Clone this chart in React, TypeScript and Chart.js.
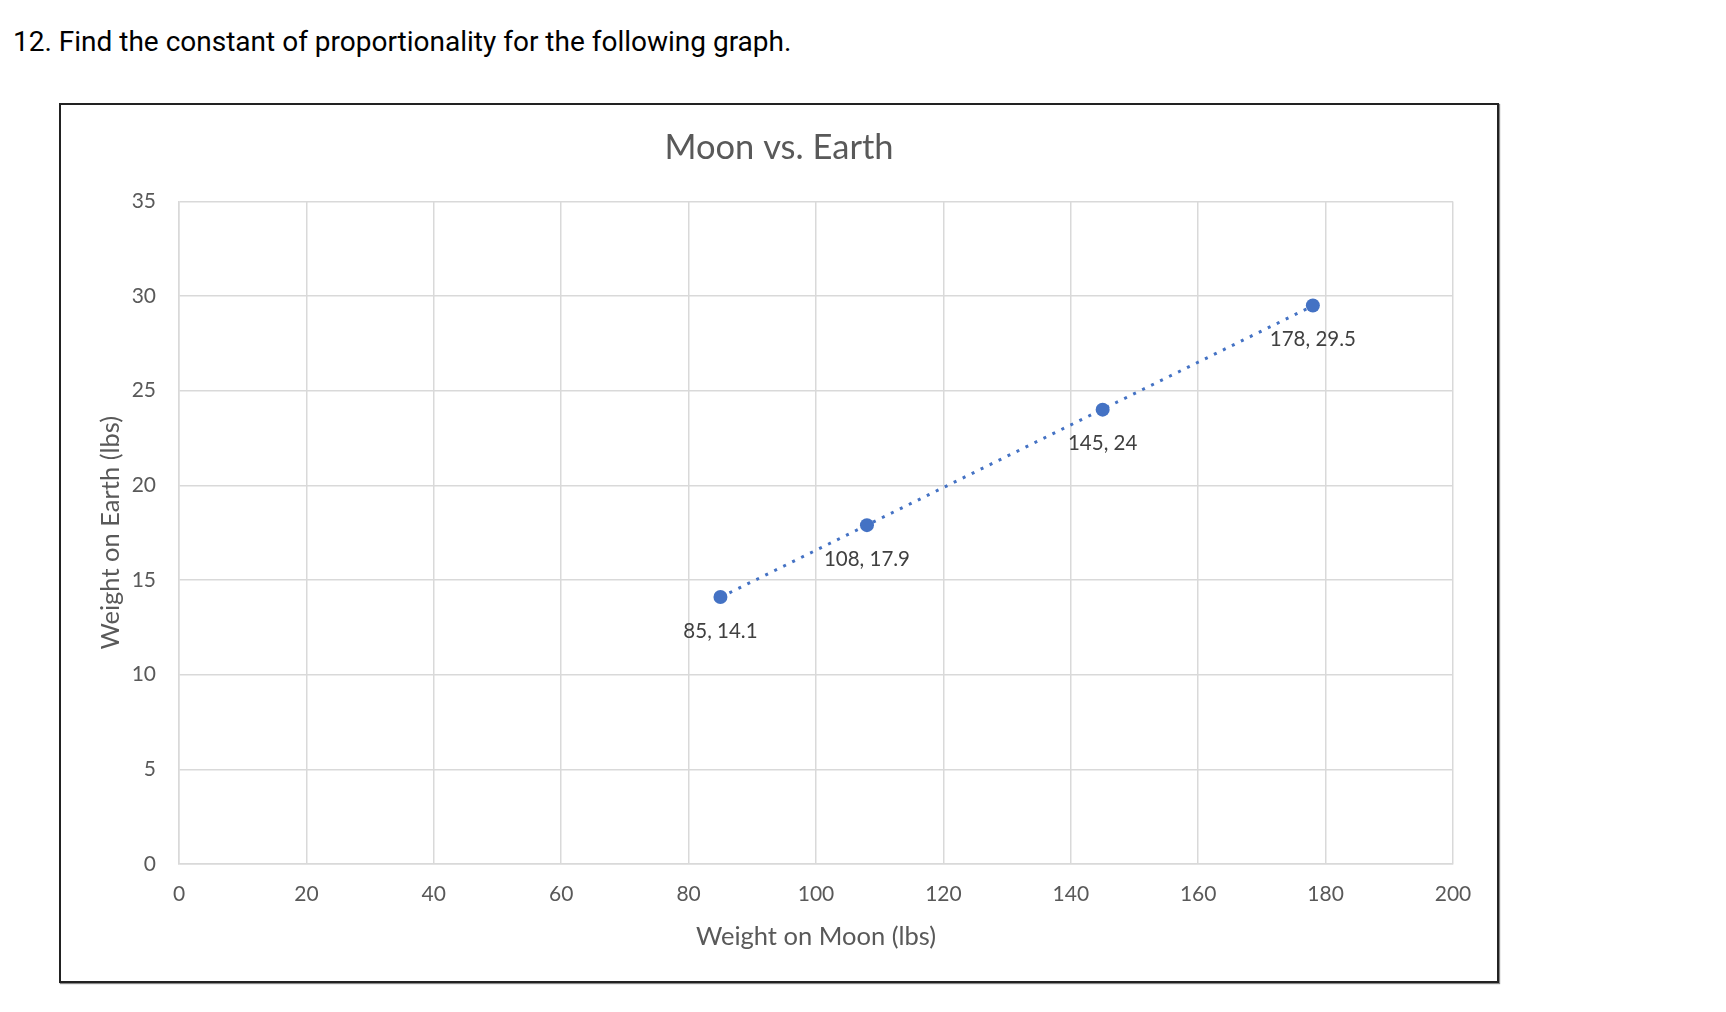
import React, { useEffect, useRef } from "react";
import { Chart, registerables } from "chart.js";

Chart.register(...registerables);

const questionText = "12. Find the constant of proportionality for the following graph.";
const chartTitle = "Moon vs. Earth";
const xAxisTitle = "Weight on Moon (lbs)";
const yAxisTitle = "Weight on Earth (lbs)";

const moonWeights = [85, 108, 145, 178];
const earthWeights = [14.1, 17.9, 24, 29.5];

const xMin = 0;
const xMax = 200;
const xStep = 20;
const yMin = 0;
const yMax = 35;
const yStep = 5;

const pointColor = "#4472C4";
const textGray = "#595959";
const gridGray = "#d9d9d9";
const fontFamily = "Lato, 'Open Sans', sans-serif";

function linearFit(xs: number[], ys: number[]) {
  const n = xs.length;
  const mx = xs.reduce((a, b) => a + b, 0) / n;
  const my = ys.reduce((a, b) => a + b, 0) / n;
  let sxx = 0;
  let sxy = 0;
  for (let i = 0; i < n; i++) {
    sxx += (xs[i] - mx) * (xs[i] - mx);
    sxy += (xs[i] - mx) * (ys[i] - my);
  }
  const slope = sxy / sxx;
  const intercept = my - slope * mx;
  return { slope, intercept };
}

const dataLabelPlugin = {
  id: "dataLabels",
  afterDatasetsDraw(chart: any) {
    const meta = chart.getDatasetMeta(0);
    const ctx = chart.ctx;
    ctx.save();
    ctx.font = `20.5px ${fontFamily}`;
    ctx.fillStyle = "#404040";
    ctx.textAlign = "center";
    ctx.textBaseline = "middle";
    meta.data.forEach((pt: any, i: number) => {
      ctx.fillText(`${moonWeights[i]}, ${earthWeights[i]}`, pt.x, pt.y + 34);
    });
    ctx.restore();
  },
};

export default function App() {
  const canvasRef = useRef<HTMLCanvasElement | null>(null);

  useEffect(() => {
    if (!canvasRef.current) return;
    const fit = linearFit(moonWeights, earthWeights);
    const x0 = Math.min(...moonWeights);
    const x1 = Math.max(...moonWeights);
    const trend = [
      { x: x0, y: fit.slope * x0 + fit.intercept },
      { x: x1, y: fit.slope * x1 + fit.intercept },
    ];
    const chart = new Chart(canvasRef.current, {
      type: "scatter",
      data: {
        datasets: [
          {
            label: "Weight",
            data: moonWeights.map((x, i) => ({ x, y: earthWeights[i] })),
            backgroundColor: pointColor,
            borderColor: pointColor,
            pointRadius: 7,
            pointBorderWidth: 0,
            order: 0,
          },
          {
            label: "Trend",
            data: trend,
            showLine: true,
            borderColor: pointColor,
            borderWidth: 3,
            borderDash: [3, 7],
            pointRadius: 0,
            fill: false,
            order: 1,
          },
        ],
      },
      options: {
        animation: false,
        responsive: true,
        maintainAspectRatio: false,
        layout: { padding: { left: 0, top: 0, right: 0, bottom: 0 } },
        plugins: {
          legend: { display: false },
          tooltip: { enabled: false },
          title: {
            display: true,
            text: chartTitle,
            color: textGray,
            font: { family: fontFamily, size: 34.5, weight: "normal", lineHeight: 1.2 },
            padding: { top: 22, bottom: 33 },
          },
        },
        scales: {
          x: {
            type: "linear",
            min: xMin,
            max: xMax,
            ticks: {
              stepSize: xStep,
              color: textGray,
              font: { family: fontFamily, size: 21 },
              padding: 18,
              maxRotation: 0,
            },
            grid: { color: gridGray, lineWidth: 1.5, drawTicks: false },
            border: { color: gridGray, width: 1.5 },
            title: {
              display: true,
              text: xAxisTitle,
              color: textGray,
              font: { family: fontFamily, size: 25.5, lineHeight: 1.2 },
              padding: { top: 0, bottom: 29 },
            },
            afterFit: (scale: any) => {
              scale.height = 117;
            },
          },
          y: {
            type: "linear",
            min: yMin,
            max: yMax,
            ticks: {
              stepSize: yStep,
              color: textGray,
              font: { family: fontFamily, size: 21 },
              padding: 23,
            },
            grid: { color: gridGray, lineWidth: 1.5, drawTicks: false },
            border: { color: gridGray, width: 1.5 },
            title: {
              display: true,
              text: yAxisTitle,
              color: textGray,
              font: { family: fontFamily, size: 25.5, lineHeight: 1.2 },
              padding: { top: 34, bottom: 0 },
            },
            afterFit: (scale: any) => {
              scale.width = 118;
            },
          },
          rightSpace: {
            type: "linear",
            position: "right",
            display: true,
            grid: { display: false, drawTicks: false },
            border: { display: false },
            ticks: { display: false },
            afterFit: (scale: any) => {
              scale.width = 44;
            },
          },
        },
      },
      plugins: [dataLabelPlugin],
    });
    return () => chart.destroy();
  }, []);

  return (
    <div style={{ position: "absolute", left: 0, top: 0, width: 1726, height: 1012, background: "#fff" }}>
      <div
        style={{
          position: "absolute",
          left: 13,
          top: 26,
          fontFamily: "Roboto, sans-serif",
          fontSize: 28,
          lineHeight: "32px",
          color: "#000",
          whiteSpace: "nowrap",
        }}
      >
        {questionText}
      </div>
      <div
        style={{
          position: "absolute",
          left: 59,
          top: 103,
          width: 1436,
          height: 876,
          border: "2px solid #222",
          boxShadow: "1px 1px 1px #888",
        }}
      >
        <canvas ref={canvasRef} />
      </div>
    </div>
  );
}
